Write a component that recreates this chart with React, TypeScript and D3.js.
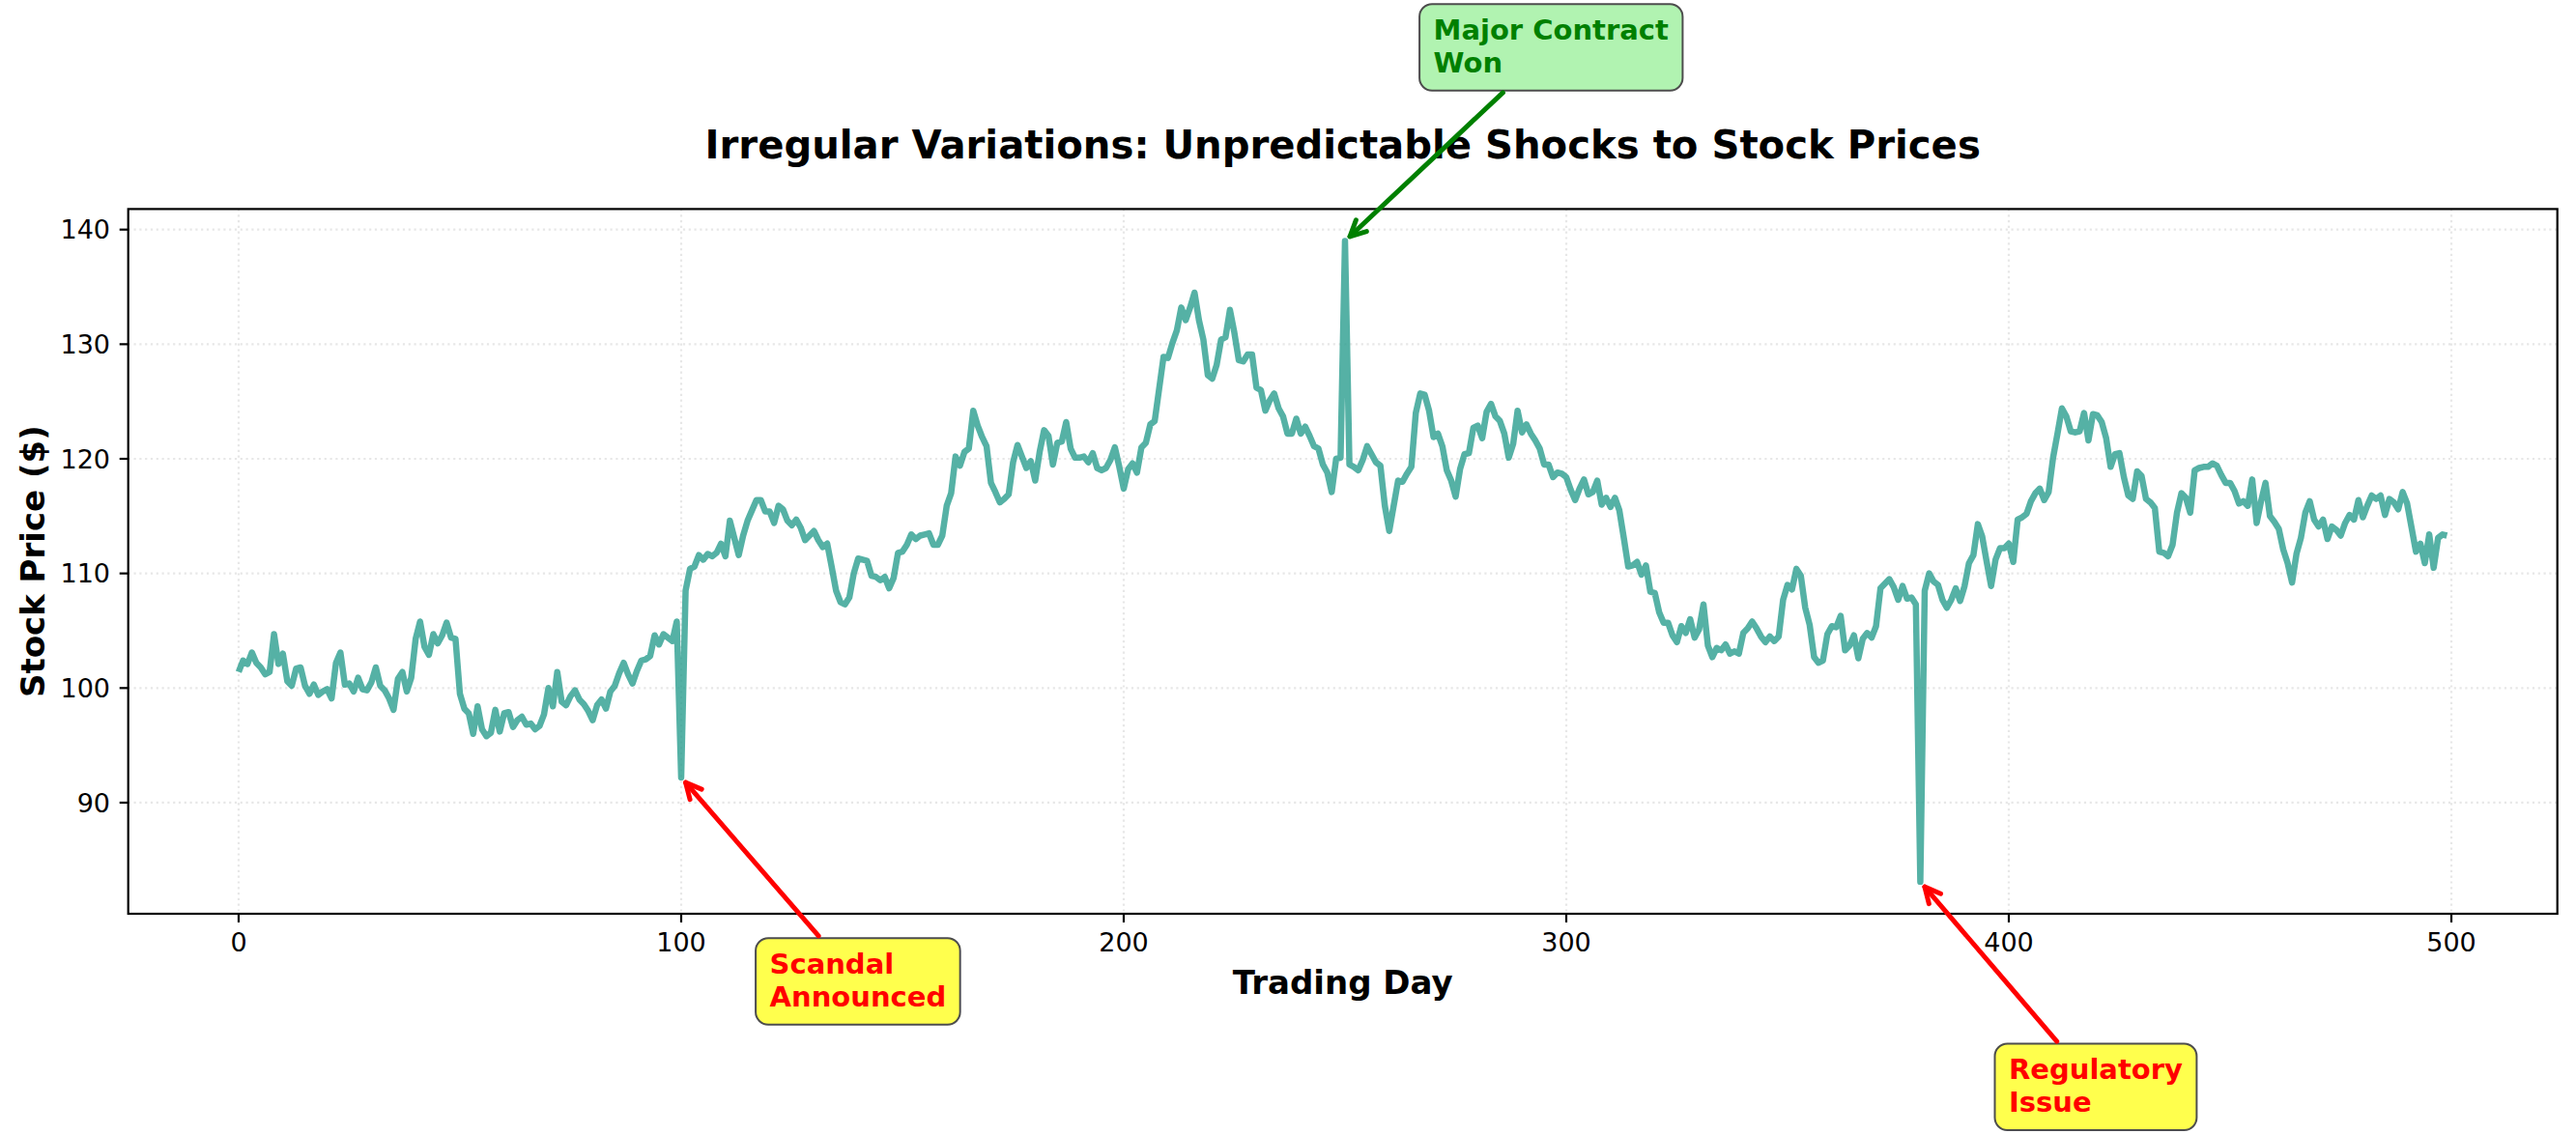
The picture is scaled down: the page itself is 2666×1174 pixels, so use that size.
import { useEffect, useRef } from "react";
import * as d3 from "d3";

// ── Data ──────────────────────────────────────────────────────────────────────

// closing price per trading day (day = index)
const PRICES: number[] = [
  101.4, 102.4, 102.1, 103.1, 102.2, 101.8, 101.2, 101.4, 104.7, 102.1,
  103.0, 100.6, 100.2, 101.7, 101.8, 100.2, 99.5, 100.3, 99.4, 99.7,
  99.9, 99.1, 102.2, 103.1, 100.3, 100.4, 99.7, 100.9, 99.9, 99.8,
  100.5, 101.8, 100.2, 99.8, 99.1, 98.1, 100.8, 101.4, 99.7, 100.9,
  104.3, 105.8, 103.6, 102.9, 104.7, 103.9, 104.6, 105.7, 104.4, 104.3,
  99.5, 98.2, 97.8, 96.0, 98.4, 96.4, 95.8, 96.1, 98.1, 96.2,
  97.8, 97.9, 96.6, 97.2, 97.5, 96.8, 96.9, 96.4, 96.7, 97.7,
  100.0, 98.4, 101.4, 98.8, 98.5, 99.3, 99.8, 99.0, 98.6, 98.0,
  97.2, 98.5, 99.0, 98.2, 99.7, 100.2, 101.3, 102.2, 101.2, 100.4,
  101.5, 102.4, 102.5, 102.8, 104.6, 103.8, 104.7, 104.4, 104.1, 105.8,
  92.2, 108.5, 110.4, 110.6, 111.6, 111.2, 111.7, 111.5, 111.8, 112.6,
  111.5, 114.6, 113.1, 111.6, 113.3, 114.6, 115.5, 116.4, 116.4, 115.4,
  115.4, 114.4, 115.9, 115.6, 114.6, 114.2, 114.7, 114.0, 112.9, 113.3,
  113.7, 112.9, 112.3, 112.6, 110.6, 108.5, 107.5, 107.3, 107.9, 110.0,
  111.3, 111.2, 111.1, 109.8, 109.7, 109.4, 109.7, 108.7, 109.6, 111.8,
  111.9, 112.5, 113.4, 113.0, 113.3, 113.4, 113.5, 112.5, 112.5, 113.3,
  115.9, 117.0, 120.2, 119.4, 120.6, 120.9, 124.2, 122.9, 121.9, 121.1,
  117.9, 117.1, 116.2, 116.5, 116.9, 119.7, 121.2, 120.2, 119.2, 119.8,
  118.1, 120.6, 122.5, 122.0, 119.5, 121.4, 121.5, 123.2, 120.9, 120.1,
  120.1, 120.2, 119.7, 120.5, 119.2, 119.0, 119.2, 119.9, 121.0, 119.3,
  117.4, 119.1, 119.6, 118.8, 121.0, 121.4, 123.0, 123.3, 126.1, 128.9,
  128.8, 130.1, 131.2, 133.2, 132.1, 133.2, 134.5, 132.1, 130.4, 127.3,
  127.0, 128.2, 130.4, 130.6, 133.0, 131.0, 128.6, 128.5, 129.1, 129.1,
  126.2, 126.0, 124.2, 125.1, 125.7, 124.4, 123.7, 122.2, 122.2, 123.5,
  122.2, 122.8, 122.0, 121.1, 120.9, 119.5, 118.8, 117.1, 120.0, 120.1,
  139.0, 119.5, 119.3, 119.0, 119.9, 121.1, 120.4, 119.7, 119.4, 115.9,
  113.7, 115.9, 118.1, 118.0, 118.7, 119.3, 124.0, 125.7, 125.6, 124.2,
  121.9, 122.2, 121.1, 119.0, 118.1, 116.7, 119.1, 120.4, 120.5, 122.7,
  122.9, 121.8, 124.1, 124.8, 123.7, 123.3, 122.2, 120.1, 121.3, 124.2,
  122.3, 123.0, 122.2, 121.6, 120.9, 119.5, 119.5, 118.4, 118.8, 118.7,
  118.4, 117.3, 116.4, 117.4, 118.2, 116.9, 117.1, 118.1, 116.0, 116.6,
  115.8, 116.6, 115.5, 113.1, 110.6, 110.7, 111.0, 109.9, 110.7, 108.4,
  108.3, 106.6, 105.7, 105.7, 104.6, 104.0, 105.4, 104.8, 106.0, 104.4,
  105.1, 107.3, 103.7, 102.7, 103.5, 103.3, 103.8, 103.0, 103.2, 103.0,
  104.8, 105.2, 105.8, 105.2, 104.5, 104.0, 104.5, 104.1, 104.5, 107.7,
  109.0, 108.6, 110.4, 109.8, 107.0, 105.5, 102.7, 102.2, 102.4, 104.7,
  105.4, 105.3, 106.3, 103.3, 103.7, 104.6, 102.6, 104.3, 104.8, 104.4,
  105.4, 108.7, 109.1, 109.5, 108.8, 107.7, 108.9, 107.8, 107.9, 107.3,
  83.1, 108.5, 110.0, 109.3, 109.0, 107.7, 107.0, 107.7, 108.7, 107.6,
  108.9, 110.9, 111.6, 114.3, 113.2, 111.0, 108.9, 111.2, 112.2, 112.2,
  112.6, 111.0, 114.7, 114.9, 115.2, 116.3, 117.0, 117.4, 116.4, 117.1,
  120.1, 122.2, 124.4, 123.7, 122.4, 122.3, 122.4, 124.0, 121.6, 123.9,
  123.8, 123.2, 121.8, 119.3, 120.4, 120.5, 118.4, 116.8, 116.5, 118.9,
  118.5, 116.5, 116.2, 115.7, 111.9, 111.8, 111.5, 112.5, 115.3, 117.0,
  116.6, 115.3, 119.0, 119.2, 119.3, 119.3, 119.6, 119.4, 118.6, 117.9,
  117.9, 117.2, 116.1, 116.3, 115.9, 118.2, 114.4, 116.3, 117.9, 115.0,
  114.5, 113.9, 112.1, 110.9, 109.2, 111.7, 113.1, 115.3, 116.3, 114.7,
  114.1, 114.7, 113.0, 114.1, 113.8, 113.3, 114.4, 115.1, 114.7, 116.4,
  114.9, 115.9, 116.8, 116.5, 116.8, 115.1, 116.5, 116.2, 115.6, 117.1,
  116.1, 114.0, 111.9, 112.6, 110.9, 113.4, 110.5, 113.1, 113.4, 113.3,
];

const X_TICKS = [0, 100, 200, 300, 400, 500];
const Y_TICKS = [90, 100, 110, 120, 130, 140];

// shock events
const EVENT_DAYS       = [100, 250, 380];
const EVENT_LINES      = [["Scandal", "Announced"], ["Major Contract", "Won"], ["Regulatory", "Issue"]];
const EVENT_TEXT_DAY   = [120, 270, 400];
const EVENT_TEXT_PRICE = [75.1, 156.6, 65.9]; // baseline of first text line
const EVENT_COLORS     = ["red", "green", "red"];
const EVENT_FILLS      = ["#ffff4d", "#b1f3b1", "#ffff4d"];

// ── Config ────────────────────────────────────────────────────────────────────

const WIDTH  = 2666;
const HEIGHT = 1174;
const MARGIN = { top: 216.4, right: 19.3, bottom: 228, left: 132.7 };
const FONT   = "'DejaVu Sans', Verdana, sans-serif";
const LINE_COLOR = "#2A9D8F";

const TICK_LEN  = 9;
const TICK_PAD  = 9.7;
const TICK_SIZE = 27;
const ANN_SIZE  = 29;

// ── Component ─────────────────────────────────────────────────────────────────

const App = () => {
  const svgRef = useRef<SVGSVGElement>(null);

  useEffect(() => {
    if (!svgRef.current) return;

    const root = d3.select(svgRef.current);
    root.selectAll("*").remove();

    const innerW = WIDTH  - MARGIN.left - MARGIN.right;
    const innerH = HEIGHT - MARGIN.top  - MARGIN.bottom;

    root.append("rect")
      .attr("width", WIDTH)
      .attr("height", HEIGHT)
      .attr("fill", "white");

    const days = PRICES.map((_, i) => i);
    const n    = PRICES.length - 1;

    // matplotlib-style 5% autoscale margins
    const xScale = d3.scaleLinear()
      .domain([-0.05 * n, n * 1.05])
      .range([MARGIN.left, MARGIN.left + innerW]);

    const [pMin, pMax] = d3.extent(PRICES) as [number, number];
    const pPad = (pMax - pMin) * 0.05;
    const yScale = d3.scaleLinear()
      .domain([pMin - pPad, pMax + pPad])
      .range([MARGIN.top + innerH, MARGIN.top]);

    const left   = MARGIN.left;
    const right  = MARGIN.left + innerW;
    const top    = MARGIN.top;
    const bottom = MARGIN.top + innerH;

    // Grid
    const grid = root.append("g")
      .attr("stroke", "#b0b0b0")
      .attr("stroke-opacity", 0.3)
      .attr("stroke-width", 2.2)
      .attr("stroke-dasharray", "2.2,3.6");

    grid.selectAll(".gx")
      .data(X_TICKS)
      .join("line")
      .attr("x1", (d) => xScale(d))
      .attr("x2", (d) => xScale(d))
      .attr("y1", top)
      .attr("y2", bottom);

    grid.selectAll(".gy")
      .data(Y_TICKS)
      .join("line")
      .attr("x1", left)
      .attr("x2", right)
      .attr("y1", (d) => yScale(d))
      .attr("y2", (d) => yScale(d));

    // Price line
    const line = d3.line<number>()
      .x((d) => xScale(d))
      .y((d) => yScale(PRICES[d]));

    root.append("path")
      .datum(days)
      .attr("fill", "none")
      .attr("stroke", LINE_COLOR)
      .attr("stroke-opacity", 0.8)
      .attr("stroke-width", 6.5)
      .attr("stroke-linejoin", "round")
      .attr("d", line);

    // Frame
    root.append("rect")
      .attr("x", left)
      .attr("y", top)
      .attr("width", innerW)
      .attr("height", innerH)
      .attr("fill", "none")
      .attr("stroke", "black")
      .attr("stroke-width", 2.2);

    // X axis ticks
    const xt = root.append("g");
    xt.selectAll("line")
      .data(X_TICKS)
      .join("line")
      .attr("x1", (d) => xScale(d))
      .attr("x2", (d) => xScale(d))
      .attr("y1", bottom)
      .attr("y2", bottom + TICK_LEN)
      .attr("stroke", "black")
      .attr("stroke-width", 2.2);
    xt.selectAll("text")
      .data(X_TICKS)
      .join("text")
      .attr("x", (d) => xScale(d))
      .attr("y", 985)
      .attr("text-anchor", "middle")
      .attr("font-family", FONT)
      .attr("font-size", TICK_SIZE)
      .attr("fill", "black")
      .text((d) => String(d));

    // Y axis ticks
    const yt = root.append("g");
    yt.selectAll("line")
      .data(Y_TICKS)
      .join("line")
      .attr("x1", left - TICK_LEN)
      .attr("x2", left)
      .attr("y1", (d) => yScale(d))
      .attr("y2", (d) => yScale(d))
      .attr("stroke", "black")
      .attr("stroke-width", 2.2);
    yt.selectAll("text")
      .data(Y_TICKS)
      .join("text")
      .attr("x", left - TICK_LEN - TICK_PAD)
      .attr("y", (d) => yScale(d) + TICK_SIZE * 0.36)
      .attr("text-anchor", "end")
      .attr("font-family", FONT)
      .attr("font-size", TICK_SIZE)
      .attr("fill", "black")
      .text((d) => String(d));

    // Axis labels & title
    root.append("text")
      .attr("x", (left + right) / 2)
      .attr("y", 1029)
      .attr("text-anchor", "middle")
      .attr("font-family", FONT)
      .attr("font-weight", "bold")
      .attr("font-size", 34)
      .text("Trading Day");

    root.append("text")
      .attr("transform", `translate(46,${(top + bottom) / 2}) rotate(-90)`)
      .attr("text-anchor", "middle")
      .attr("font-family", FONT)
      .attr("font-weight", "bold")
      .attr("font-size", 34)
      .text("Stock Price ($)");

    root.append("text")
      .attr("x", (left + right) / 2)
      .attr("y", 164)
      .attr("text-anchor", "middle")
      .attr("font-family", FONT)
      .attr("font-weight", "bold")
      .attr("font-size", 40.2)
      .text("Irregular Variations: Unpredictable Shocks to Stock Prices");

    // Annotations
    const pad     = ANN_SIZE / 2;
    const lineGap = ANN_SIZE * 1.19;

    EVENT_DAYS.forEach((day, i) => {
      const color = EVENT_COLORS[i];
      const tx    = xScale(EVENT_TEXT_DAY[i]);
      const ty    = yScale(EVENT_TEXT_PRICE[i]);
      const lines = EVENT_LINES[i];

      const g   = root.append("g");
      const box = g.append("rect");
      const txt = g.append("text")
        .attr("font-family", FONT)
        .attr("font-weight", "bold")
        .attr("font-size", ANN_SIZE)
        .attr("fill", color);

      lines.forEach((l, k) => {
        txt.append("tspan")
          .attr("x", tx)
          .attr("y", ty + k * lineGap)
          .text(l);
      });

      const textW = d3.max(txt.selectAll<SVGTSpanElement, unknown>("tspan").nodes(),
        (t) => t.getComputedTextLength()) ?? 0;

      const bx = tx - pad;
      const by = ty - ANN_SIZE * 0.76 - pad;
      const bw = textW + 2 * pad;
      const bh = ANN_SIZE * 0.76 + (lines.length - 1) * lineGap + ANN_SIZE * 0.14 + 2 * pad;

      box
        .attr("x", bx)
        .attr("y", by)
        .attr("width", bw)
        .attr("height", bh)
        .attr("rx", 13)
        .attr("fill", EVENT_FILLS[i])
        .attr("stroke", "#4d4d4d")
        .attr("stroke-width", 2);

      // arrow from box edge to the shock point
      const px = xScale(day);
      const py = yScale(PRICES[day]);
      const cx = bx + bw / 2;
      const cy = by + bh / 2;
      const dx = px - cx;
      const dy = py - cy;
      const t0 = Math.min(
        dx !== 0 ? (bw / 2) / Math.abs(dx) : Infinity,
        dy !== 0 ? (bh / 2) / Math.abs(dy) : Infinity,
      );
      const len = Math.hypot(dx, dy);
      const ux  = dx / len;
      const uy  = dy / len;
      const sx  = cx + dx * t0 + ux * 3;
      const sy  = cy + dy * t0 + uy * 3;
      const ex  = px - ux * 7;
      const ey  = py - uy * 7;

      const arrow = root.append("g")
        .attr("stroke", color)
        .attr("stroke-width", 5)
        .attr("fill", "none")
        .attr("stroke-linecap", "round")
        .attr("stroke-linejoin", "round");

      arrow.append("line")
        .attr("x1", sx).attr("y1", sy)
        .attr("x2", ex).attr("y2", ey);

      const arm = 18;
      const ang = 0.46;
      const head = [-1, 1].map((s) => {
        const c = Math.cos(s * ang);
        const si = Math.sin(s * ang);
        const bxv = -ux * c + uy * si;
        const byv = -ux * si - uy * c;
        return [ex + bxv * arm, ey + byv * arm] as [number, number];
      });
      arrow.append("path")
        .attr("d", `M${head[0][0]},${head[0][1]}L${ex},${ey}L${head[1][0]},${head[1][1]}`);
    });
  }, []);

  return (
    <svg
      ref={svgRef}
      width={WIDTH}
      height={HEIGHT}
      style={{ position: "absolute", left: 0, top: 0, display: "block" }}
    />
  );
};

export default App;
